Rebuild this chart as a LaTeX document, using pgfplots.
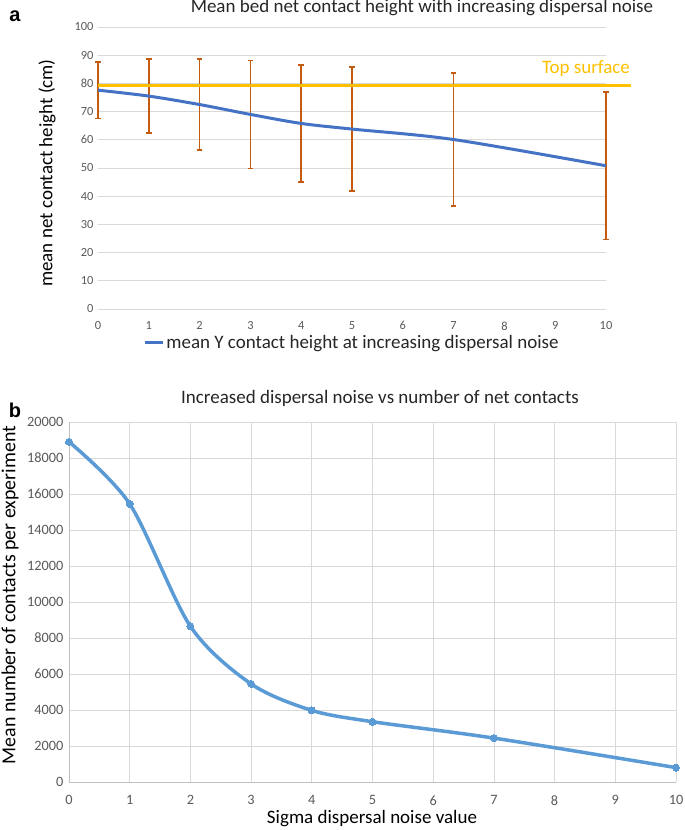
\documentclass[border=0pt]{standalone}
\usepackage{fontspec}
\setmainfont{Carlito}
\newfontfamily\arialb{Liberation Sans}
\usepackage{pgfplots}
\pgfplotsset{compat=1.18}
\definecolor{bluetop}{HTML}{4472C4}
\definecolor{errc}{HTML}{C55A11}
\definecolor{yel}{HTML}{FFC000}
\definecolor{bluebot}{HTML}{5B9BD5}
\definecolor{gridc}{HTML}{D9D9D9}
\definecolor{axisc}{HTML}{BFBFBF}
\definecolor{tickc}{HTML}{595959}
\definecolor{txtc}{HTML}{262626}
\begin{document}
\begin{tikzpicture}
\useasboundingbox (0,0) rectangle (685pt,-830pt);
% ---------- panel a ----------
\begin{axis}[
  at={(98pt,-309pt)}, anchor=south west,
  scale only axis, width=508pt, height=282pt,
  xmin=0, xmax=10, ymin=0, ymax=100,
  xtick={0,...,10}, ytick={0,10,...,100},
  axis line style={draw=none},
  major tick length=0pt,
  ymajorgrids, grid style={draw=gridc, line width=0.8pt},
  clip=false,
  /pgf/number format/assume math mode=true,
  ticklabel style={font=\fontsize{12.4}{14}\selectfont, text=tickc},
  xticklabel style={yshift=-9pt},
  yticklabel style={xshift=-1pt},
  legend style={at={(0.5,-0.12)}, anchor=center, draw=none, fill=none,
    font=\fontsize{19}{22}\selectfont, text=txtc},
  legend image code/.code={\draw[#1, line width=3pt] (0pt,0pt) -- (18pt,0pt);},
]
\addplot[forget plot, draw=none, mark=none,
  error bars/.cd, y dir=both, y explicit,
  error mark=-,
  error bar style={draw=errc, line width=1.5pt},
  error mark options={draw=errc, line width=1.5pt, mark size=2.8pt, rotate=90}]
  coordinates {
  (0,77.6) +- (0,10.0)
  (1,75.5) +- (0,13.15)
  (2,72.5) +- (0,16.15)
  (3,69.0) +- (0,19.1)
  (4,65.8) +- (0,20.8)
  (5,63.8) +- (0,21.95)
  (7,60.1) +- (0,23.55)
  (10,50.8) +- (0,26.2)
};
\addplot[forget plot, yel, line width=3pt] coordinates {(0,79.4) (10.5,79.4)};
\addplot[bluetop, line width=3pt, smooth, mark=none] coordinates {
  (0,77.6) (1,75.5) (2,72.5) (3,69.0) (4,65.8) (5,63.8) (7,60.1) (10,50.8)
};
\addlegendentry{mean Y contact height at increasing dispersal noise}
\end{axis}
\node[font=\fontsize{19}{22}\selectfont, text=txtc] at (422pt,-8pt) {Mean bed net contact height with increasing dispersal noise};
\node[font=\fontsize{19}{22}\selectfont, text=yel] at (586pt,-69pt) {Top surface};
\node[rotate=90, font=\fontsize{19}{22}\selectfont] at (47pt,-173pt) {mean net contact height (cm)};
\node[font=\arialb\bfseries\fontsize{20}{22}\selectfont] at (15pt,-16pt) {a};
% ---------- panel b ----------
\begin{axis}[
  at={(69pt,-782pt)}, anchor=south west,
  scale only axis, width=607pt, height=360pt,
  xmin=0, xmax=10, ymin=0, ymax=20000,
  xtick={0,...,10}, ytick={0,2000,...,20000},
  axis lines*=left,
  axis line style={draw=axisc, line width=0.8pt, -},
  major tick length=0pt,
  xmajorgrids, ymajorgrids, grid style={draw=gridc, line width=0.8pt},
  clip=false,
  /pgf/number format/assume math mode=true,
  /pgf/number format/1000 sep={},
  scaled y ticks=false,
  ticklabel style={font=\fontsize{14.3}{16}\selectfont, text=tickc},
  xticklabel style={yshift=-10pt},
  yticklabel style={xshift=-2pt},
]
\addplot[bluebot, line width=3.5pt, smooth, mark=*, mark size=3.5pt,
  mark options={fill=bluebot, draw=bluebot, line width=0pt}] coordinates {
  (0,18900) (1,15450) (2,8650) (3,5450) (4,3980) (5,3350) (7,2440) (10,800)
};
\end{axis}
\node[font=\fontsize{19}{22}\selectfont, text=txtc] at (380pt,-398pt) {Increased dispersal noise vs number of net contacts};
\node[rotate=90, font=\fontsize{19.9}{23}\selectfont] at (10pt,-595pt) {Mean number of contacts per experiment};
\node[font=\fontsize{19}{22}\selectfont] at (372pt,-819pt) {Sigma dispersal noise value};
\node[font=\arialb\bfseries\fontsize{20}{22}\selectfont] at (15pt,-410pt) {b};
\end{tikzpicture}
\end{document}
